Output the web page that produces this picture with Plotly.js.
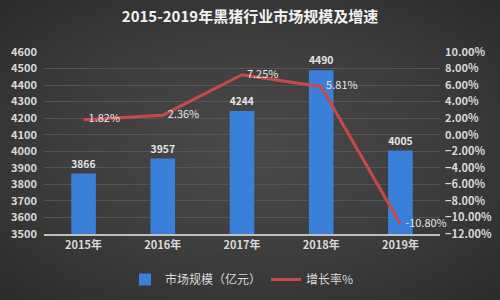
<!DOCTYPE html>
<html><head><meta charset="utf-8">
<script src="https://cdn.plot.ly/plotly-3.0.1.min.js"></script>
<style>html,body{margin:0;padding:0}
#chart{background:radial-gradient(ellipse at 50% 50%, #4a4a4a 0%, #3c3c3c 55%, #2b2b2b 100%)}</style>
</head><body><div id="chart" style="width:500px;height:300px"></div>
<script>
const years = ["2015年","2016年","2017年","2018年","2019年"];
const marketSize = [3866, 3957, 4244, 4490, 4005];
const growthRate = [0.0182, 0.0236, 0.0725, 0.0581, -0.108];
const leftTicks = [3500,3600,3700,3800,3900,4000,4100,4200,4300,4400,4500,4600];
const rightTicks = [-0.12,-0.10,-0.08,-0.06,-0.04,-0.02,0,0.02,0.04,0.06,0.08,0.10];

const fontFam = '"Noto Sans CJK SC", "Noto Sans", sans-serif';
const txt = '#d9d9d9';

const data = [
  {type:'bar', name:'市场规模（亿元）', x:years, y:marketSize, yaxis:'y',
   marker:{color:'#3b80d8'}, width:0.31,
   text: marketSize.map(String), textposition:'outside', cliponaxis:false,
   textfont:{color:'#e6e6e6', size:11, family:fontFam, weight:'bold'}},
  {type:'scatter', mode:'lines+text', name:'增长率%', x:years, y:growthRate, yaxis:'y2',
   line:{color:'#c9484a', width:3},
   text: growthRate.map(v => '\u00a0\u00a0' + (v*100).toFixed(2)+'%'),
   textposition:'middle right', cliponaxis:false,
   textfont:{color:'#e6e6e6', size:11, family:fontFam}}
];

const layout = {
  width:500, height:300,
  paper_bgcolor:'rgba(0,0,0,0)', plot_bgcolor:'rgba(0,0,0,0)',
  margin:{l:44, r:60, t:52, b:66, autoexpand:false},
  title:{text:'2015-2019年黑猪行业市场规模及增速', x:0.5, xanchor:'center', y:0.945, yanchor:'middle',
         font:{color:'#f2f2f2', size:15, family:fontFam, weight:'bold'}},
  font:{family:fontFam, color:txt},
  bargap:0.69,
  xaxis:{showgrid:false, showline:true, linecolor:'#bfbfbf', linewidth:1.5,
         tickfont:{size:11, color:txt, family:fontFam, weight:'bold'}, ticks:'', fixedrange:true},
  yaxis:{range:[3500,4600], tickvals:leftTicks, showgrid:true, gridcolor:'#555555', gridwidth:1,
         zeroline:false, tickfont:{size:11, color:txt, family:fontFam, weight:'bold'}, ticks:'',
         ticklabelstandoff:6},
  yaxis2:{overlaying:'y', side:'right', range:[-0.12,0.10], tickvals:rightTicks, tickformat:'.2%',
          showgrid:false, zeroline:false, tickfont:{size:11, color:txt, family:fontFam, weight:'bold'}, ticks:'',
          ticklabelstandoff:4},
  showlegend:true,
  legend:{orientation:'h', x:0.5, xanchor:'center', y:-0.25, yanchor:'middle',
          font:{size:12, color:txt, family:fontFam}, bgcolor:'rgba(0,0,0,0)'}
};
Plotly.newPlot('chart', data, layout, {displayModeBar:false, staticPlot:true});
</script></body></html>
